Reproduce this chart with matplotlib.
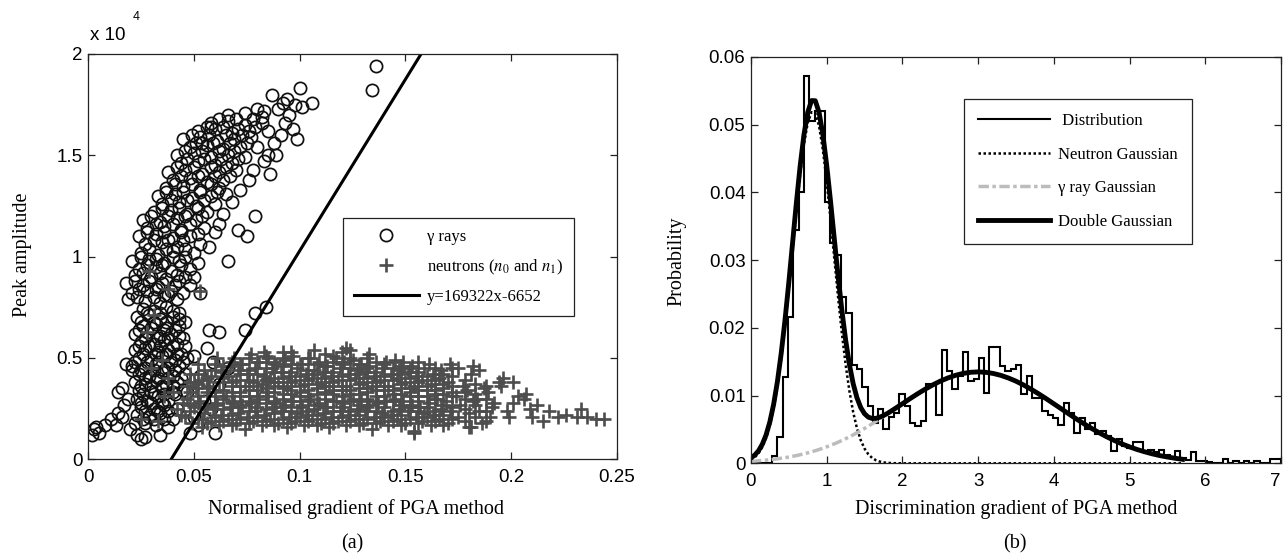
import numpy as np
import matplotlib
matplotlib.use("Agg")
import matplotlib.pyplot as plt

SERIF = "Liberation Serif"
SANS = "Liberation Sans"
plt.rcParams["font.family"] = [SANS, "DejaVu Sans"]
plt.rcParams["mathtext.fontset"] = "stix"

# ---------------- (a) PGA scatter, peak amplitude in units of 1e4 ----------------
gamma_tail = [
    (0.002, 0.12), (0.003, 0.15), (0.005, 0.13), (0.004, 0.16), (0.008, 0.17),
    (0.011, 0.20), (0.013, 0.17), (0.014, 0.23), (0.016, 0.21), (0.017, 0.27),
    (0.014, 0.33), (0.016, 0.35), (0.019, 0.30), (0.018, 0.47), (0.021, 0.44),
    (0.020, 0.15), (0.023, 0.12), (0.025, 0.10), (0.027, 0.11), (0.022, 0.18),
]
gamma_core = [
    (0.026, 0.74), (0.031, 0.73), (0.037, 0.75), (0.043, 0.72),
    (0.023, 0.70), (0.029, 0.71), (0.034, 0.69), (0.040, 0.70), (0.046, 0.68),
    (0.026, 0.66), (0.032, 0.67), (0.037, 0.65), (0.043, 0.66),
    (0.022, 0.62), (0.028, 0.63), (0.034, 0.61), (0.039, 0.62), (0.045, 0.60),
    (0.025, 0.58), (0.031, 0.57), (0.036, 0.59), (0.042, 0.57),
    (0.022, 0.54), (0.027, 0.55), (0.033, 0.53), (0.038, 0.54), (0.044, 0.52),
    (0.024, 0.50), (0.030, 0.49), (0.035, 0.51), (0.041, 0.49), (0.047, 0.50),
    (0.021, 0.46), (0.027, 0.45), (0.032, 0.47), (0.038, 0.45), (0.043, 0.46),
    (0.024, 0.42), (0.029, 0.41), (0.035, 0.43), (0.040, 0.41), (0.046, 0.42),
    (0.022, 0.38), (0.027, 0.37), (0.032, 0.39), (0.037, 0.37), (0.042, 0.38),
    (0.024, 0.34), (0.030, 0.33), (0.035, 0.35), (0.040, 0.33), (0.045, 0.34),
    (0.023, 0.30), (0.028, 0.29), (0.033, 0.31), (0.038, 0.29),
    (0.025, 0.26), (0.031, 0.25), (0.036, 0.27), (0.042, 0.25),
    (0.023, 0.22), (0.029, 0.21), (0.034, 0.23), (0.040, 0.20),
    (0.027, 0.18), (0.032, 0.17), (0.038, 0.16),
    (0.028, 0.72), (0.034, 0.72), (0.040, 0.73),
    (0.025, 0.68), (0.031, 0.68), (0.037, 0.68), (0.043, 0.69),
    (0.024, 0.64), (0.030, 0.65), (0.036, 0.64), (0.041, 0.64),
    (0.027, 0.60), (0.033, 0.60), (0.038, 0.60), (0.043, 0.61),
    (0.024, 0.56), (0.029, 0.56), (0.034, 0.56), (0.040, 0.56), (0.046, 0.56),
    (0.026, 0.52), (0.032, 0.52), (0.037, 0.52), (0.042, 0.52),
    (0.022, 0.48), (0.028, 0.48), (0.033, 0.48), (0.039, 0.48), (0.045, 0.48),
    (0.025, 0.44), (0.031, 0.44), (0.036, 0.44), (0.041, 0.44),
    (0.027, 0.40), (0.033, 0.40), (0.038, 0.40), (0.044, 0.40),
    (0.025, 0.36), (0.030, 0.36), (0.035, 0.36), (0.040, 0.36),
    (0.026, 0.32), (0.031, 0.32), (0.036, 0.32), (0.041, 0.32),
    (0.025, 0.28), (0.030, 0.28), (0.035, 0.28),
    (0.027, 0.24), (0.033, 0.24), (0.038, 0.24),
    (0.026, 0.20), (0.031, 0.20), (0.036, 0.20),
]
gamma_band = [
    (0.019, 0.79), (0.027, 0.78), (0.034, 0.77), (0.042, 0.79),
    (0.021, 0.82), (0.028, 0.83), (0.036, 0.81), (0.045, 0.82),
    (0.018, 0.87), (0.026, 0.86), (0.033, 0.85), (0.041, 0.86),
    (0.022, 0.91), (0.030, 0.90), (0.037, 0.89), (0.046, 0.90),
    (0.024, 0.94), (0.032, 0.95), (0.039, 0.93), (0.048, 0.94),
    (0.021, 0.98), (0.029, 0.99), (0.036, 0.97), (0.043, 0.98),
    (0.025, 1.02), (0.033, 1.01), (0.040, 1.03), (0.050, 1.02),
    (0.027, 1.06), (0.035, 1.07), (0.042, 1.05), (0.053, 1.06),
    (0.024, 1.10), (0.032, 1.11), (0.040, 1.09), (0.048, 1.10),
    (0.028, 1.14), (0.036, 1.15), (0.044, 1.13), (0.055, 1.14),
    (0.026, 1.18), (0.034, 1.17), (0.042, 1.19), (0.051, 1.18), (0.062, 1.16),
    (0.031, 1.22), (0.039, 1.23), (0.047, 1.21), (0.056, 1.22),
    (0.035, 1.26), (0.043, 1.27), (0.051, 1.25), (0.060, 1.26),
    (0.033, 1.30), (0.041, 1.31), (0.049, 1.29), (0.058, 1.30), (0.065, 1.31),
    (0.037, 1.34), (0.045, 1.35), (0.053, 1.33), (0.062, 1.34),
    (0.040, 1.38), (0.048, 1.39), (0.056, 1.37), (0.064, 1.38),
    (0.038, 1.42), (0.046, 1.43), (0.054, 1.41), (0.062, 1.42), (0.070, 1.43),
    (0.044, 1.46), (0.052, 1.47), (0.060, 1.45), (0.068, 1.46),
    (0.042, 1.50), (0.050, 1.51), (0.058, 1.49), (0.066, 1.50), (0.074, 1.49),
    (0.048, 1.54), (0.056, 1.55), (0.064, 1.53), (0.072, 1.54),
    (0.045, 1.58), (0.053, 1.59), (0.061, 1.57), (0.069, 1.58), (0.077, 1.59),
    (0.052, 1.62), (0.060, 1.63), (0.068, 1.61), (0.076, 1.62),
    (0.058, 1.66), (0.066, 1.67), (0.074, 1.65), (0.082, 1.66),
    (0.066, 1.70), (0.074, 1.71), (0.082, 1.69),
    (0.023, 0.80), (0.031, 0.80), (0.038, 0.81),
    (0.024, 0.84), (0.032, 0.84), (0.039, 0.83),
    (0.022, 0.88), (0.029, 0.88), (0.035, 0.87), (0.043, 0.88),
    (0.026, 0.92), (0.034, 0.92), (0.042, 0.91),
    (0.028, 0.96), (0.035, 0.96), (0.044, 0.96),
    (0.025, 1.00), (0.032, 0.99), (0.040, 1.00), (0.046, 1.00),
    (0.029, 1.04), (0.037, 1.04), (0.046, 1.04),
    (0.031, 1.08), (0.038, 1.08), (0.045, 1.08),
    (0.028, 1.12), (0.036, 1.12), (0.044, 1.12), (0.052, 1.11),
    (0.032, 1.16), (0.040, 1.16), (0.048, 1.16),
    (0.030, 1.20), (0.038, 1.20), (0.046, 1.20), (0.054, 1.20),
    (0.035, 1.24), (0.043, 1.24), (0.052, 1.24),
    (0.039, 1.28), (0.047, 1.28), (0.055, 1.28),
    (0.037, 1.32), (0.045, 1.32), (0.053, 1.32), (0.061, 1.32),
    (0.041, 1.36), (0.049, 1.36), (0.058, 1.36),
    (0.044, 1.40), (0.052, 1.40), (0.060, 1.40), (0.067, 1.40),
    (0.042, 1.44), (0.050, 1.44), (0.058, 1.44), (0.065, 1.44),
    (0.047, 1.48), (0.055, 1.48), (0.063, 1.48), (0.071, 1.48),
    (0.046, 1.52), (0.054, 1.52), (0.062, 1.52), (0.069, 1.52),
    (0.051, 1.56), (0.059, 1.56), (0.067, 1.56), (0.075, 1.56),
    (0.049, 1.60), (0.057, 1.60), (0.065, 1.60), (0.073, 1.60),
    (0.056, 1.64), (0.064, 1.64), (0.071, 1.63), (0.079, 1.64),
    (0.062, 1.68), (0.070, 1.68), (0.078, 1.68),
]
gamma_sparse = [
    (0.087, 1.80), (0.100, 1.83), (0.092, 1.76), (0.098, 1.75), (0.106, 1.76),
    (0.101, 1.74), (0.080, 1.73), (0.095, 1.70), (0.097, 1.63), (0.099, 1.58),
    (0.089, 1.50), (0.085, 1.50), (0.086, 1.41), (0.078, 1.43), (0.079, 1.20),
    (0.075, 1.10), (0.066, 0.98), (0.071, 1.13), (0.058, 1.64), (0.054, 1.56),
    (0.083, 1.72), (0.090, 1.73), (0.094, 1.78), (0.085, 1.62), (0.091, 1.60),
    (0.088, 1.56), (0.093, 1.66), (0.080, 1.54), (0.083, 1.47), (0.076, 1.38),
    (0.072, 1.33), (0.068, 1.27), (0.064, 1.21), (0.060, 1.12), (0.057, 1.05),
    (0.052, 0.97), (0.050, 0.90), (0.048, 0.86),
    (0.136, 1.94), (0.134, 1.82),
    (0.053, 0.82), (0.057, 0.64), (0.062, 0.63), (0.056, 0.55), (0.059, 0.48),
    (0.050, 0.51), (0.053, 0.41), (0.047, 0.33), (0.048, 0.13), (0.060, 0.13),
    (0.034, 0.12), (0.074, 0.64), (0.079, 0.72), (0.084, 0.75), (0.066, 0.45),
    (0.055, 0.29), (0.050, 0.21), (0.058, 0.25), (0.062, 0.37), (0.052, 0.17),
]
neutron_mixed = [
    (0.028, 0.63), (0.035, 0.49), (0.030, 0.45), (0.038, 0.84), (0.053, 0.83),
    (0.040, 0.33), (0.045, 0.28), (0.042, 0.25), (0.047, 0.36), (0.050, 0.38),
    (0.044, 0.22), (0.025, 0.20), (0.033, 0.19), (0.029, 0.93), (0.031, 0.71),
    (0.038, 0.40), (0.036, 0.31), (0.048, 0.27), (0.052, 0.31), (0.054, 0.20),
]
neutron_band = [
    (0.046, 0.21), (0.047, 0.30), (0.048, 0.42), (0.049, 0.18), (0.050, 0.26), (0.051, 0.35), (0.052, 0.47),
    (0.054, 0.16), (0.055, 0.23), (0.053, 0.29), (0.056, 0.33), (0.054, 0.39), (0.055, 0.44),
    (0.058, 0.19), (0.059, 0.25), (0.057, 0.36), (0.060, 0.31), (0.058, 0.41), (0.060, 0.47),
    (0.062, 0.17), (0.063, 0.22), (0.061, 0.28), (0.064, 0.34), (0.062, 0.38), (0.063, 0.43), (0.061, 0.50),
    (0.066, 0.20), (0.067, 0.26), (0.065, 0.31), (0.068, 0.36), (0.066, 0.41), (0.067, 0.46),
    (0.070, 0.18), (0.071, 0.23), (0.069, 0.29), (0.072, 0.33), (0.070, 0.39), (0.071, 0.44), (0.069, 0.50),
    (0.074, 0.15), (0.075, 0.21), (0.073, 0.27), (0.076, 0.31), (0.074, 0.36), (0.075, 0.42), (0.073, 0.47),
    (0.078, 0.19), (0.079, 0.24), (0.077, 0.28), (0.080, 0.34), (0.078, 0.38), (0.079, 0.45), (0.077, 0.52),
    (0.082, 0.17), (0.083, 0.22), (0.081, 0.30), (0.084, 0.33), (0.082, 0.37), (0.083, 0.41), (0.081, 0.48), (0.083, 0.53),
    (0.086, 0.20), (0.087, 0.26), (0.085, 0.31), (0.088, 0.36), (0.086, 0.40), (0.087, 0.45), (0.085, 0.50),
    (0.090, 0.18), (0.091, 0.24), (0.089, 0.28), (0.092, 0.32), (0.090, 0.38), (0.091, 0.43), (0.089, 0.47), (0.092, 0.53),
    (0.094, 0.16), (0.095, 0.21), (0.093, 0.27), (0.096, 0.34), (0.094, 0.36), (0.095, 0.41), (0.093, 0.49),
    (0.098, 0.19), (0.099, 0.23), (0.097, 0.29), (0.100, 0.33), (0.098, 0.39), (0.099, 0.45), (0.097, 0.51),
    (0.102, 0.17), (0.103, 0.22), (0.101, 0.27), (0.104, 0.31), (0.102, 0.37), (0.103, 0.42), (0.101, 0.47),
    (0.106, 0.20), (0.107, 0.25), (0.105, 0.30), (0.108, 0.35), (0.106, 0.40), (0.107, 0.44), (0.105, 0.50), (0.107, 0.54),
    (0.110, 0.18), (0.111, 0.23), (0.109, 0.28), (0.112, 0.33), (0.110, 0.38), (0.111, 0.43), (0.109, 0.48),
    (0.114, 0.16), (0.115, 0.21), (0.113, 0.26), (0.116, 0.32), (0.114, 0.36), (0.115, 0.41), (0.113, 0.46), (0.116, 0.51),
    (0.118, 0.19), (0.119, 0.24), (0.117, 0.29), (0.120, 0.34), (0.118, 0.39), (0.119, 0.45), (0.117, 0.50),
    (0.122, 0.17), (0.123, 0.22), (0.121, 0.28), (0.124, 0.32), (0.122, 0.36), (0.123, 0.42), (0.121, 0.48), (0.122, 0.55),
    (0.126, 0.20), (0.127, 0.25), (0.125, 0.30), (0.128, 0.35), (0.126, 0.40), (0.127, 0.44), (0.125, 0.49), (0.124, 0.54),
    (0.130, 0.18), (0.131, 0.24), (0.129, 0.29), (0.132, 0.33), (0.130, 0.38), (0.131, 0.43), (0.129, 0.47),
    (0.134, 0.15), (0.135, 0.21), (0.133, 0.27), (0.136, 0.31), (0.134, 0.36), (0.135, 0.41), (0.133, 0.46), (0.133, 0.52),
    (0.138, 0.19), (0.139, 0.23), (0.137, 0.28), (0.140, 0.34), (0.138, 0.39), (0.139, 0.45),
    (0.142, 0.17), (0.143, 0.22), (0.141, 0.29), (0.144, 0.32), (0.142, 0.36), (0.143, 0.42), (0.141, 0.48),
    (0.146, 0.20), (0.147, 0.25), (0.145, 0.30), (0.148, 0.35), (0.146, 0.40), (0.147, 0.44), (0.145, 0.49),
    (0.150, 0.18), (0.151, 0.24), (0.149, 0.29), (0.152, 0.33), (0.150, 0.38), (0.151, 0.43), (0.149, 0.48),
    (0.154, 0.14), (0.155, 0.21), (0.153, 0.27), (0.156, 0.31), (0.154, 0.36), (0.155, 0.41), (0.153, 0.46),
    (0.158, 0.19), (0.159, 0.23), (0.157, 0.26), (0.160, 0.34), (0.158, 0.39), (0.159, 0.45),
    (0.162, 0.17), (0.163, 0.22), (0.161, 0.28), (0.164, 0.32), (0.162, 0.37), (0.163, 0.42), (0.161, 0.47),
    (0.166, 0.20), (0.167, 0.25), (0.165, 0.30), (0.168, 0.35), (0.166, 0.40), (0.167, 0.44),
    (0.170, 0.18), (0.171, 0.24), (0.169, 0.29), (0.172, 0.33), (0.170, 0.38), (0.171, 0.47),
    (0.175, 0.21), (0.176, 0.27), (0.174, 0.31), (0.177, 0.36), (0.175, 0.45),
    (0.181, 0.16), (0.180, 0.23), (0.182, 0.29), (0.179, 0.34), (0.181, 0.42), (0.182, 0.46),
    (0.186, 0.18), (0.185, 0.24), (0.184, 0.30), (0.187, 0.35), (0.185, 0.44),
    (0.190, 0.21), (0.191, 0.26), (0.189, 0.33), (0.192, 0.28), (0.194, 0.38),
]
# second layer of the neutron band, one column per x with its amplitudes
neutron_columns = [
    (0.048, [0.24, 0.33, 0.38]),
    (0.052, [0.20, 0.28, 0.37, 0.42]),
    (0.056, [0.18, 0.26, 0.35, 0.40]),
    (0.060, [0.21, 0.27, 0.33, 0.44]),
    (0.064, [0.19, 0.25, 0.30, 0.40, 0.46]),
    (0.068, [0.17, 0.22, 0.28, 0.33, 0.38, 0.48]),
    (0.072, [0.20, 0.26, 0.31, 0.36, 0.42, 0.47]),
    (0.076, [0.18, 0.24, 0.29, 0.34, 0.39, 0.44, 0.50]),
    (0.080, [0.21, 0.26, 0.31, 0.36, 0.42, 0.48]),
    (0.084, [0.19, 0.25, 0.28, 0.35, 0.39, 0.45, 0.51]),
    (0.088, [0.17, 0.23, 0.29, 0.33, 0.38, 0.43, 0.48]),
    (0.092, [0.20, 0.26, 0.30, 0.35, 0.40, 0.46, 0.50]),
    (0.096, [0.18, 0.24, 0.29, 0.32, 0.38, 0.43, 0.47, 0.53]),
    (0.100, [0.21, 0.26, 0.31, 0.36, 0.41, 0.47]),
    (0.104, [0.19, 0.24, 0.29, 0.34, 0.39, 0.44, 0.50]),
    (0.108, [0.17, 0.22, 0.27, 0.32, 0.37, 0.42, 0.47]),
    (0.112, [0.20, 0.26, 0.30, 0.36, 0.40, 0.46, 0.52]),
    (0.116, [0.18, 0.24, 0.29, 0.34, 0.38, 0.43, 0.48]),
    (0.120, [0.21, 0.26, 0.31, 0.36, 0.41, 0.47, 0.53]),
    (0.124, [0.19, 0.24, 0.29, 0.34, 0.39, 0.45, 0.50]),
    (0.128, [0.17, 0.22, 0.27, 0.32, 0.37, 0.42, 0.47]),
    (0.132, [0.20, 0.26, 0.30, 0.35, 0.40, 0.45, 0.50]),
    (0.136, [0.18, 0.24, 0.29, 0.34, 0.38, 0.43, 0.48]),
    (0.140, [0.21, 0.26, 0.31, 0.36, 0.41, 0.47]),
    (0.144, [0.19, 0.24, 0.29, 0.34, 0.39, 0.45]),
    (0.148, [0.17, 0.22, 0.27, 0.32, 0.37, 0.42, 0.46]),
    (0.152, [0.20, 0.26, 0.31, 0.35, 0.40, 0.45]),
    (0.156, [0.18, 0.24, 0.29, 0.34, 0.38, 0.43, 0.48]),
    (0.160, [0.21, 0.26, 0.31, 0.36, 0.41]),
    (0.164, [0.19, 0.24, 0.30, 0.34, 0.39, 0.45]),
    (0.168, [0.17, 0.22, 0.27, 0.32, 0.37, 0.42]),
    (0.172, [0.20, 0.26, 0.31, 0.36, 0.41, 0.45]),
    (0.178, [0.19, 0.25, 0.30, 0.33, 0.39]),
    (0.183, [0.21, 0.27, 0.32, 0.37]),
    (0.188, [0.19, 0.24, 0.30, 0.36]),
]
neutron_tail = [
    (0.195, 0.36), (0.198, 0.24), (0.201, 0.38), (0.201, 0.28), (0.203, 0.31),
    (0.206, 0.30), (0.207, 0.32), (0.209, 0.25), (0.212, 0.27), (0.215, 0.19),
    (0.218, 0.24), (0.222, 0.21), (0.226, 0.22), (0.231, 0.21), (0.233, 0.25),
    (0.236, 0.21), (0.240, 0.20), (0.244, 0.20), (0.210, 0.21), (0.199, 0.21),
    (0.154, 0.13), (0.180, 0.16), (0.196, 0.40),
]
fit_slope = 169322
fit_intercept = -6652

# ---------------- (b) discrimination histogram and Gaussian fits ----------------
bin_width = 0.07
hist_prob = [
    0, 0, 0, 0,
    0.0011, 0.0039, 0.0128, 0.0216, 0.0344, 0.0400,
    0.0572, 0.0505, 0.0520, 0.0520, 0.0386, 0.0325, 0.0307, 0.0245, 0.0222,
    0.0145, 0.0140, 0.0113, 0.0084, 0.0060, 0.0080, 0.0050, 0.0069, 0.0074, 0.0102,
    0.0085, 0.0060, 0.0055, 0.0062, 0.0117, 0.0117, 0.0072,
    0.0168, 0.0136, 0.0109, 0.0129, 0.0164, 0.0121, 0.0124, 0.0156, 0.0104,
    0.0172, 0.0172, 0.0143, 0.0136, 0.0139, 0.0145, 0.0102, 0.0129, 0.0097, 0.0097, 0.0077, 0.0072,
    0.0067, 0.0057, 0.0089, 0.0075, 0.0045, 0.0067, 0.0050, 0.0060, 0.0043, 0.0048, 0.0040,
    0.0018, 0.0036, 0.0026, 0.0022, 0.0031, 0.0031, 0.0016, 0.0019, 0.0016, 0.0019, 0.0012, 0.0009,
    0.0018, 0.0008, 0.0005, 0.0016, 0.0004, 0.0003, 0.0002, 0, 0, 0.0007,
    0, 0.0003, 0, 0.0003, 0, 0.0003, 0, 0, 0.0006, 0.0006,
]
# curves sampled every 0.05 up to 1.95, then every 0.1 from 2.0 to 5.7
neutron_gauss = [
    0.00052, 0.00089, 0.00148, 0.00239, 0.00372, 0.00560, 0.00814, 0.01143, 0.01551, 0.02033,
    0.02576, 0.03154, 0.03731, 0.04265, 0.04711, 0.05028, 0.05186, 0.05168, 0.04977, 0.04631,
    0.04164, 0.03618, 0.03037, 0.02464, 0.01931, 0.01463, 0.01071, 0.00757, 0.00518, 0.00342,
    0.00218, 0.00134, 0.00080, 0.00046, 0.00026, 0.00014, 0.00007, 0.00004, 0.00002, 0.00001,
] + [0.0] * 38
gamma_gauss = [
    0.00029, 0.00032, 0.00037, 0.00042, 0.00047, 0.00053, 0.00059, 0.00067, 0.00075, 0.00083,
    0.00093, 0.00103, 0.00114, 0.00127, 0.00140, 0.00154, 0.00170, 0.00186, 0.00204, 0.00223,
    0.00243, 0.00265, 0.00287, 0.00311, 0.00337, 0.00363, 0.00391, 0.00420, 0.00451, 0.00482,
    0.00515, 0.00548, 0.00583, 0.00618, 0.00654, 0.00691, 0.00728, 0.00766, 0.00804, 0.00842,
    0.00879, 0.00954, 0.01026, 0.01094, 0.01157, 0.01213, 0.01260, 0.01299, 0.01327, 0.01344,
    0.01350, 0.01344, 0.01327, 0.01299, 0.01260, 0.01213, 0.01157, 0.01094, 0.01026, 0.00954,
    0.00879, 0.00804, 0.00728, 0.00654, 0.00583, 0.00515, 0.00451, 0.00391, 0.00337, 0.00287,
    0.00243, 0.00204, 0.00170, 0.00140, 0.00114, 0.00093, 0.00075, 0.00059,
]
double_gauss = [
    0.00081, 0.00121, 0.00185, 0.00281, 0.00419, 0.00613, 0.00873, 0.01210, 0.01626, 0.02116,
    0.02669, 0.03257, 0.03845, 0.04392, 0.04851, 0.05182, 0.05356, 0.05354, 0.05181, 0.04854,
    0.04407, 0.03883, 0.03324, 0.02775, 0.02268, 0.01826, 0.01462, 0.01177, 0.00969, 0.00824,
    0.00733, 0.00682, 0.00663, 0.00664, 0.00680, 0.00705, 0.00735, 0.00770, 0.00806, 0.00843,
    0.00879, 0.00954, 0.01026, 0.01094, 0.01157, 0.01213, 0.01260, 0.01299, 0.01327, 0.01344,
    0.01350, 0.01344, 0.01327, 0.01299, 0.01260, 0.01213, 0.01157, 0.01094, 0.01026, 0.00954,
    0.00879, 0.00804, 0.00728, 0.00654, 0.00583, 0.00515, 0.00451, 0.00391, 0.00337, 0.00287,
    0.00243, 0.00204, 0.00170, 0.00140, 0.00114, 0.00093, 0.00075, 0.00059,
]


def unzip(*groups):
    pts = [p for g in groups for p in g]
    return [p[0] for p in pts], [p[1] for p in pts]


def style_axes(ax):
    for sp in ax.spines.values():
        sp.set_linewidth(0.9)
        sp.set_color("#222222")
    ax.tick_params(direction="in", top=True, right=True, length=5, width=0.9,
                   labelsize=13.5, color="#222222")
    ax.tick_params(axis="x", pad=7)
    ax.tick_params(axis="y", pad=4)


fig = plt.figure(figsize=(12.83, 5.56), dpi=100)

# ---------------- panel (a) ----------------
ax1 = fig.add_axes([0.0686, 0.1739, 0.4123, 0.7290])
column_pts = [(x, y) for x, ys in neutron_columns for y in ys]
gx, gy = unzip(gamma_tail, gamma_core, gamma_band, gamma_sparse)
nx, ny = unzip(neutron_mixed, neutron_band, column_pts, neutron_tail)
ax1.plot(gx, gy, "o", ms=8.8, mfc="none", mec="#111111", mew=1.25, label="γ rays")
ax1.plot(nx, ny, "+", ms=10.5, color="#4d4d4d", mew=1.9,
         label=r"neutrons ($n_0$ and $n_1$)")
ax1.axline((0, fit_intercept / 1e4), slope=fit_slope / 1e4, color="black", lw=2.2,
           label=f"y={fit_slope}x{fit_intercept}")
ax1.set_xlim(0, 0.25)
ax1.set_ylim(0, 2)
ax1.set_xticks([0, 0.05, 0.1, 0.15, 0.2, 0.25])
ax1.set_xticklabels(["0", "0.05", "0.1", "0.15", "0.2", "0.25"])
ax1.set_yticks([0, 0.5, 1, 1.5, 2])
ax1.set_yticklabels(["0", "0.5", "1", "1.5", "2"])
style_axes(ax1)
leg1 = ax1.legend(loc="upper left", bbox_to_anchor=(0.482, 0.595), borderaxespad=0,
                  prop={"family": SERIF, "size": 12}, handlelength=3.9, handletextpad=0.5,
                  labelspacing=0.75, borderpad=0.65, fancybox=False, framealpha=1,
                  edgecolor="#222222")
leg1.get_frame().set_linewidth(0.9)

fig.text(90 / 1283, 1 - 36 / 556, "x 10", fontsize=13.5, ha="left", va="center")
fig.text(133 / 1283, 1 - 17 / 556, "4", fontsize=9, ha="left", va="center")
fig.text(23 / 1283, 1 - 255 / 556, "Peak amplitude", family=SERIF, fontsize=14.5,
         rotation=90, ha="center", va="center")
fig.text(356 / 1283, 1 - 509 / 556, "Normalised gradient of PGA method", family=SERIF,
         fontsize=14.5, ha="center", va="center")
fig.text(352 / 1283, 1 - 544 / 556, "(a)", family=SERIF, fontsize=14.5,
         ha="center", va="center")

# ---------------- panel (b) ----------------
ax2 = fig.add_axes([0.5853, 0.1667, 0.4131, 0.7308])
edges = np.round(np.arange(len(hist_prob) + 1) * bin_width, 2)
curve_x = np.concatenate([np.arange(40) * 0.05, 2.0 + np.arange(38) * 0.1])

ax2.stairs(hist_prob, edges, color="black", lw=1.5, label=" Distribution")
ax2.plot(curve_x, neutron_gauss, color="black", lw=1.8, ls=(0, (1, 1)),
         label="Neutron Gaussian")
ax2.plot(curve_x, gamma_gauss, color="#bcbcbc", lw=2.5, ls=(0, (3, 1, 1, 1)),
         label="γ ray Gaussian")
ax2.plot(curve_x, double_gauss, color="black", lw=3.5, label="Double Gaussian")
ax2.set_xlim(0, 7)
ax2.set_ylim(0, 0.06)
ax2.set_xticks(range(8))
ax2.set_yticks([0, 0.01, 0.02, 0.03, 0.04, 0.05, 0.06])
ax2.set_yticklabels(["0", "0.01", "0.02", "0.03", "0.04", "0.05", "0.06"])
style_axes(ax2)
ax2.get_xticklabels()[-1].set_horizontalalignment("right")
leg2 = ax2.legend(loc="upper left", bbox_to_anchor=(0.402, 0.8966), borderaxespad=0,
                  prop={"family": SERIF, "size": 12}, handlelength=4.3, handletextpad=0.5,
                  labelspacing=1.05, borderpad=0.85, fancybox=False, framealpha=1,
                  edgecolor="#222222")
leg2.get_frame().set_linewidth(0.9)

fig.text(677 / 1283, 1 - 261 / 556, "Probability", family=SERIF, fontsize=14.5,
         rotation=90, ha="center", va="center")
fig.text(1016 / 1283, 1 - 509 / 556, "Discrimination gradient of PGA method",
         family=SERIF, fontsize=14.5, ha="center", va="center")
fig.text(1015 / 1283, 1 - 544 / 556, "(b)", family=SERIF, fontsize=14.5,
         ha="center", va="center")

fig.savefig("out.png", dpi=100)
